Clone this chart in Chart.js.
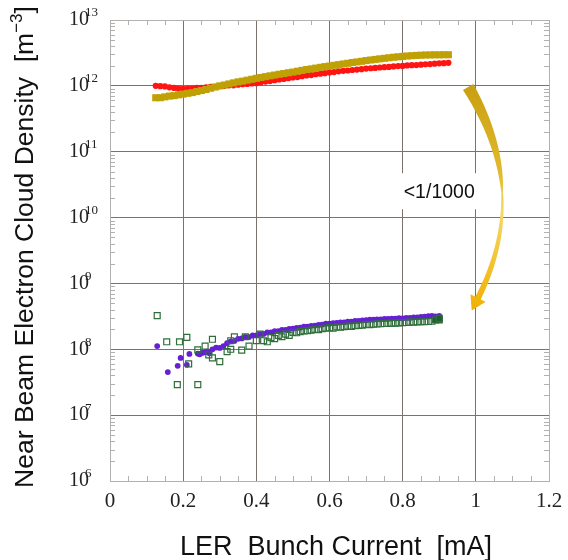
<!DOCTYPE html>
<html>
<head>
<meta charset="utf-8">
<script src="https://cdn.jsdelivr.net/npm/chart.js@4.4.1/dist/chart.umd.min.js"></script>
<style>
  html, body { margin: 0; padding: 0; background: #fff; }
  canvas { display: block; }
</style>
</head>
<body>
<canvas id="myChart" width="568" height="560"></canvas>
<script>
// bunch current [mA] for the two upper (dense) series
const upperX = [0.125,0.1375,0.15,0.1625,0.175,0.1875,0.2,0.2125,0.225,0.2375,0.25,0.2625,0.275,0.2875,0.3,0.3125,0.325,0.3375,0.35,0.3625,0.375,0.3875,0.4,0.4125,0.425,0.4375,0.45,0.4625,0.475,0.4875,0.5,0.5125,0.525,0.5375,0.55,0.5625,0.575,0.5875,0.6,0.6125,0.625,0.6375,0.65,0.6625,0.675,0.6875,0.7,0.7125,0.725,0.7375,0.75,0.7625,0.775,0.7875,0.8,0.8125,0.825,0.8375,0.85,0.8625,0.875,0.8875,0.9,0.9125,0.925];
// densities in units of 1e12 m^-3
const redY = [1.00,0.99,0.98,0.95,0.93,0.91,0.90,0.91,0.91,0.93,0.93,0.95,0.97,0.97,0.99,1.00,1.02,1.02,1.04,1.06,1.07,1.09,1.10,1.13,1.16,1.18,1.22,1.25,1.27,1.31,1.34,1.36,1.40,1.44,1.46,1.50,1.53,1.56,1.60,1.62,1.66,1.69,1.71,1.74,1.77,1.79,1.83,1.85,1.87,1.90,1.92,1.94,1.97,2.00,2.01,2.04,2.06,2.07,2.10,2.13,2.14,2.17,2.20,2.21,2.24];
const goldY = [0.66,0.66,0.68,0.70,0.71,0.73,0.75,0.77,0.79,0.82,0.85,0.88,0.92,0.96,1.00,1.03,1.07,1.11,1.15,1.18,1.22,1.26,1.30,1.34,1.38,1.42,1.46,1.50,1.54,1.58,1.62,1.67,1.72,1.77,1.81,1.86,1.91,1.96,2.00,2.05,2.10,2.15,2.20,2.26,2.31,2.36,2.42,2.47,2.52,2.57,2.62,2.67,2.72,2.76,2.80,2.84,2.87,2.90,2.92,2.94,2.95,2.96,2.96,2.97,2.97];

// lower series, densities in units of 1e8 m^-3
const purpleX = [0.129,0.158,0.185,0.193,0.21,0.217,0.24,0.245,0.252,0.26,0.266,0.272,0.28,0.29,0.30,0.31,0.32,0.33,0.34,0.35,0.36,0.37,0.38,0.39,0.40,0.41,0.42,0.43,0.44,0.45,0.46,0.47,0.48,0.49,0.50,0.51,0.52,0.53,0.54,0.55,0.56,0.57,0.58,0.59,0.60,0.61,0.62,0.63,0.64,0.65,0.66,0.67,0.68,0.69,0.70,0.71,0.72,0.73,0.74,0.75,0.76,0.77,0.78,0.79,0.80,0.81,0.82,0.83,0.84,0.85,0.86,0.87,0.88,0.89,0.90];
const purpleY = [1.12,0.45,0.56,0.74,0.58,0.85,0.86,0.84,0.88,0.90,0.92,0.87,1.00,1.06,1.05,1.12,1.24,1.32,1.34,1.44,1.46,1.54,1.53,1.62,1.63,1.70,1.71,1.80,1.81,1.88,1.89,1.97,1.97,2.04,2.05,2.12,2.13,2.20,2.21,2.27,2.29,2.35,2.37,2.44,2.45,2.50,2.51,2.57,2.57,2.63,2.63,2.69,2.69,2.75,2.77,2.81,2.81,2.85,2.85,2.89,2.89,2.93,2.93,2.96,2.95,2.99,2.99,3.05,3.05,3.11,3.13,3.19,3.21,3.17,3.20];
const greenX = [0.129,0.155,0.184,0.19,0.21,0.215,0.24,0.24,0.26,0.27,0.28,0.28,0.30,0.32,0.33,0.33,0.34,0.36,0.37,0.38,0.40,0.41,0.42,0.43,0.44,0.45,0.46,0.47,0.48,0.49,0.50,0.51,0.52,0.53,0.54,0.55,0.56,0.57,0.58,0.59,0.60,0.61,0.62,0.63,0.64,0.65,0.66,0.67,0.68,0.69,0.70,0.71,0.72,0.73,0.74,0.75,0.76,0.77,0.78,0.79,0.80,0.81,0.82,0.83,0.84,0.85,0.86,0.87,0.88,0.89,0.90,0.90];
const greenY = [3.24,1.30,0.29,1.30,1.52,0.60,0.29,0.98,1.12,0.82,1.42,0.74,0.65,0.92,1.35,1.00,1.55,0.97,1.55,1.12,1.35,1.70,1.35,1.30,1.50,1.45,1.62,1.55,1.70,1.62,1.80,1.78,1.85,1.90,1.92,1.95,2.00,1.98,2.05,2.10,2.12,2.10,2.18,2.16,2.20,2.25,2.22,2.28,2.30,2.32,2.38,2.36,2.40,2.42,2.44,2.46,2.48,2.50,2.50,2.52,2.54,2.55,2.58,2.58,2.60,2.62,2.62,2.64,2.66,2.78,2.80,2.95];

const xTicks = [0, 0.2, 0.4, 0.6, 0.8, 1, 1.2];
const xTickLabels = ["0", "0.2", "0.4", "0.6", "0.8", "1", "1.2"];
const yExponents = [6, 7, 8, 9, 10, 11, 12, 13];

const toPoints = (xs, ys, unit) => xs.map((x, i) => ({ x: x, y: ys[i] * unit }));

const gridColor = "#7d716c";
const frameColor = "#b4b0ae";

const decor = {
  id: "decor",
  beforeDatasetsDraw(chart) {
    const { ctx, chartArea: a, scales } = chart;
    const xs = scales.x, ys = scales.y;
    ctx.save();
    ctx.strokeStyle = frameColor;
    ctx.lineWidth = 1;
    ctx.beginPath();
    // minor ticks along x (every 0.05)
    for (let k = 1; k < 24; k++) {
      if (k % 4 === 0) continue;
      const px = Math.round(xs.getPixelForValue(k * 0.05)) + 0.5;
      ctx.moveTo(px, a.bottom); ctx.lineTo(px, a.bottom - 5);
      ctx.moveTo(px, a.top); ctx.lineTo(px, a.top + 5);
    }
    // minor ticks along y (2..9 per decade)
    for (let e = 6; e < 13; e++) {
      for (let m = 2; m <= 9; m++) {
        const py = Math.round(ys.getPixelForValue(m * Math.pow(10, e))) + 0.5;
        ctx.moveTo(a.left, py); ctx.lineTo(a.left + 5, py);
        ctx.moveTo(a.right, py); ctx.lineTo(a.right - 5, py);
      }
    }
    ctx.stroke();
    ctx.strokeRect(Math.round(a.left) + 0.5, Math.round(a.top) + 0.5,
      Math.round(a.right - a.left), Math.round(a.bottom - a.top));
    ctx.restore();
  },
  afterDatasetsDraw(chart) {
    const { ctx, scales } = chart;
    const xs = scales.x, ys = scales.y;
    ctx.save();

    // y tick labels 10^n
    ctx.fillStyle = "#222";
    ctx.textBaseline = "middle";
    ctx.textAlign = "left";
    yExponents.forEach((e) => {
      const py = ys.getPixelForValue(Math.pow(10, e));
      ctx.font = "20px 'Liberation Serif'";
      ctx.fillText("10", 69, py);
      ctx.font = "13px 'Liberation Serif'";
      ctx.fillText(String(e), 85, py - 7);
    });

    // x tick labels
    ctx.font = "21px 'Liberation Serif'";
    ctx.textAlign = "center";
    xTicks.forEach((v, i) => {
      ctx.fillText(xTickLabels[i], xs.getPixelForValue(v), 501);
    });

    // axis titles
    ctx.fillStyle = "#111";
    ctx.font = "27px 'Liberation Sans'";
    ctx.fillText("LER  Bunch Current  [mA]", 336, 548);

    ctx.save();
    ctx.translate(26, 247);
    ctx.rotate(-Math.PI / 2);
    const main = "Near Beam Electron Cloud Density  [m";
    ctx.font = "26.5px 'Liberation Sans'";
    const wMain = ctx.measureText(main).width;
    const wBr = ctx.measureText("]").width;
    ctx.font = "17px 'Liberation Sans'";
    const wSup = ctx.measureText("\u22123").width;
    let x0 = -(wMain + wSup + wBr) / 2;
    ctx.textAlign = "left";
    ctx.font = "26.5px 'Liberation Sans'";
    ctx.fillText(main, x0, 0);
    ctx.font = "17px 'Liberation Sans'";
    ctx.fillText("\u22123", x0 + wMain, -9);
    ctx.font = "26.5px 'Liberation Sans'";
    ctx.fillText("]", x0 + wMain + wSup, 0);
    ctx.restore();

    // label box "<1/1000"
    const lx = xs.getPixelForValue(0.9), ly = ys.getPixelForValue(Math.pow(10, 10.4));
    ctx.fillStyle = "#fff";
    ctx.fillRect(lx - 44, ly - 18, 88, 36);
    ctx.fillStyle = "#111";
    ctx.font = "19.5px 'Liberation Sans'";
    ctx.textAlign = "center";
    ctx.fillText("<1/1000", lx, ly + 1);

    // curved arrow from upper band down to lower band
    const P0 = { x: xs.getPixelForValue(0.979), y: ys.getPixelForValue(9.6e11) };
    const M = { x: xs.getPixelForValue(1.072), y: ys.getPixelForValue(2.4e10) };
    const P2 = { x: xs.getPixelForValue(1.006), y: ys.getPixelForValue(6.0e8) };
    const P1 = { x: 2 * M.x - (P0.x + P2.x) / 2, y: 2 * M.y - (P0.y + P2.y) / 2 };
    const bez = (t) => ({
      x: (1 - t) * (1 - t) * P0.x + 2 * (1 - t) * t * P1.x + t * t * P2.x,
      y: (1 - t) * (1 - t) * P0.y + 2 * (1 - t) * t * P1.y + t * t * P2.y,
    });
    const tan = (t) => {
      const dx = 2 * (1 - t) * (P1.x - P0.x) + 2 * t * (P2.x - P1.x);
      const dy = 2 * (1 - t) * (P1.y - P0.y) + 2 * t * (P2.y - P1.y);
      const l = Math.hypot(dx, dy);
      return { x: dx / l, y: dy / l };
    };
    const width = (t) => t < 0.5
      ? 1.5 + 10.5 * Math.pow(1 - 2 * t, 0.8)
      : 1.5 + 4.5 * Math.pow((t - 0.5) / 0.5, 0.7);
    const left = [], right = [];
    for (let i = 0; i <= 60; i++) {
      const t = i / 60, p = bez(t), d = tan(t), w = width(t) / 2;
      left.push({ x: p.x - d.y * w, y: p.y + d.x * w });
      right.push({ x: p.x + d.y * w, y: p.y - d.x * w });
    }
    const dEnd = tan(1);
    const tip = { x: P2.x + dEnd.x * 14, y: P2.y + dEnd.y * 14 };
    const hw = 8.5;
    const grad = ctx.createLinearGradient(0, P0.y, 0, tip.y);
    grad.addColorStop(0, "#c9a012");
    grad.addColorStop(0.4, "#e2bb2e");
    grad.addColorStop(0.55, "#f6d868");
    grad.addColorStop(1, "#f0b000");
    ctx.fillStyle = grad;
    ctx.beginPath();
    ctx.moveTo(left[0].x, left[0].y);
    left.forEach((p) => ctx.lineTo(p.x, p.y));
    ctx.lineTo(P2.x - dEnd.y * hw, P2.y + dEnd.x * hw);
    ctx.lineTo(tip.x, tip.y);
    ctx.lineTo(P2.x + dEnd.y * hw, P2.y - dEnd.x * hw);
    for (let i = right.length - 1; i >= 0; i--) ctx.lineTo(right[i].x, right[i].y);
    ctx.closePath();
    ctx.fill();

    ctx.restore();
  },
};

const ctx = document.getElementById("myChart");

new Chart(ctx, {
  type: "scatter",
  data: {
    datasets: [
      {
        label: "gold",
        data: toPoints(upperX, goldY, 1e12),
        pointStyle: "rect",
        pointRadius: 5,
        backgroundColor: "#bfa106",
        borderWidth: 0,
      },
      {
        label: "red",
        data: toPoints(upperX, redY, 1e12),
        pointStyle: "circle",
        pointRadius: 3.1,
        backgroundColor: "#ff1414",
        borderWidth: 0,
      },
      {
        label: "green",
        data: toPoints(greenX, greenY, 1e8),
        pointStyle: "rect",
        pointRadius: 4.2,
        backgroundColor: (c) => (c.dataIndex >= greenX.length - 3 ? "#1f5e2c" : "rgba(0,0,0,0)"),
        borderColor: "#2f6f3a",
        borderWidth: 1.2,
      },
      {
        label: "purple",
        data: toPoints(purpleX, purpleY, 1e8),
        pointStyle: "circle",
        pointRadius: 2.9,
        backgroundColor: "#6420d2",
        borderWidth: 0,
      },
    ],
  },
  options: {
    responsive: false,
    animation: false,
    devicePixelRatio: 1,
    layout: { padding: { left: 110, right: 19, top: 20, bottom: 79 } },
    plugins: {
      legend: { display: false },
      tooltip: { enabled: false },
    },
    scales: {
      x: {
        type: "linear",
        min: 0,
        max: 1.2,
        ticks: { display: false, stepSize: 0.2 },
        afterBuildTicks: (scale) => {
          scale.ticks = xTicks.map((v) => ({ value: v }));
        },
        grid: { color: gridColor, lineWidth: 1, drawTicks: false },
        border: { display: false },
      },
      y: {
        type: "logarithmic",
        min: 1e6,
        max: 1e13,
        ticks: { display: false },
        afterBuildTicks: (scale) => {
          scale.ticks = yExponents.map((e) => ({ value: Math.pow(10, e) }));
        },
        grid: { color: gridColor, lineWidth: 1, drawTicks: false },
        border: { display: false },
      },
    },
  },
  plugins: [decor],
});
</script>
</body>
</html>
